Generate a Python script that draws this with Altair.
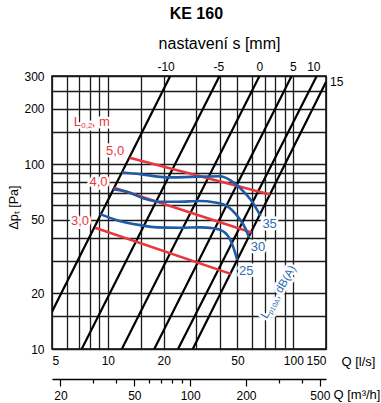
import altair as alt
import pandas as pd

FONT = "Liberation Sans"
RED = "#e8383d"
BLUE = "#1f5ba6"
BLUE_TXT = "#2d6cb6"

# ---- damper setting lines s [mm] (straight on log-log), endpoints
s_names = ["-10", "-5", "0", "5", "10", "15"]
s_q_start = [5.0, 7.23, 11.9, 17.8, 23.9, 28.7]
s_p_start = [15.9, 10, 10, 10, 10, 10]
s_q_end = [21.7, 40.0, 65.7, 97.9, 133.7, 150]
s_p_end = [300, 300, 300, 300, 300, 278]

top_labels = ["-10", "-5", "0", "5", "10"]
top_label_q = [20.6, 39.6, 66.0, 100.0, 129.0]

# ---- throw length lines L0,2 [m]
t_names = ["3,0", "4,0", "5,0"]
t_q_start = [8.54, 10.8, 13.1]
t_p_start = [45.3, 74.5, 108.2]
t_q_end = [46.0, 59.5, 74.8]
t_p_end = [25.5, 42.7, 68.6]
t_label_q = [7.08, 8.9, 10.95]
t_label_p = [49.4, 80.2, 118]

# ---- sound power curves LpA dB(A)
snd_25_q = [9.09, 11.2, 14.95, 18.4, 24.6, 31.5, 37.2, 42.2, 45.8, 47.7, 49.8]
snd_25_p = [53.7, 49.8, 46.8, 45.5, 45.3, 45.5, 45.0, 43.1, 38.8, 35.0, 30.3]
snd_30_q = [10.7, 12.7, 15.6, 19.2, 23.6, 31.5, 37.2, 43.1, 47.7, 51.9, 55.2, 57.6]
snd_30_p = [73.2, 70.9, 65.3, 62.6, 62.6, 63.2, 62.3, 60.0, 55.2, 49.8, 44.9, 40.2]
snd_35_q = [11.9, 14.95, 19.2, 22.6, 27.9, 40.5, 47.7, 54.1, 60.0, 63.9, 66.6]
snd_35_p = [90.2, 88.3, 85.4, 84.8, 85.4, 86.0, 79.5, 70.9, 62.6, 56.4, 52.5]
snd_names = ["25", "30", "35"]
snd_label_q = [55.7, 64.4, 74.5]
snd_label_p = [26.5, 35.5, 47.2]

# ---- axes
x_grid = [5, 6, 7, 8, 9, 10, 15, 20, 30, 40, 50, 60, 70, 80, 90, 100, 150]
x_labels = [5, 10, 20, 50, 100, 150]
y_grid = [10, 15, 20, 30, 40, 50, 60, 70, 80, 90, 100, 150, 200, 250, 300]
y_labels = [10, 20, 50, 100, 200, 300]
m3h_ticks = [20, 30, 40, 50, 60, 70, 80, 90, 100, 200, 300, 400, 500]
m3h_labels = [20, 50, 100, 200, 500]

# ---- headings
title_text = "KE 160"
subtitle_text = "nastavení s [mm]"


def seg_df(names, q0, p0, q1, p1):
    rows = []
    for n, a, b, c, d in zip(names, q0, p0, q1, p1):
        rows.append({"k": n, "q": a, "p": b, "o": 0})
        rows.append({"k": n, "q": c, "p": d, "o": 1})
    return pd.DataFrame(rows)


black_df = seg_df(s_names, s_q_start, s_p_start, s_q_end, s_p_end)
red_df = seg_df(t_names, t_q_start, t_p_start, t_q_end, t_p_end)
blue_rows = []
for n, qs, ps in zip(snd_names, [snd_25_q, snd_30_q, snd_35_q], [snd_25_p, snd_30_p, snd_35_p]):
    for i, (a, b) in enumerate(zip(qs, ps)):
        blue_rows.append({"k": n, "q": a, "p": b, "o": i})
blue_df = pd.DataFrame(blue_rows)

red_lab = pd.DataFrame({"t": t_names, "q": t_label_q, "p": t_label_p})
blue_lab = pd.DataFrame({"t": snd_names, "q": snd_label_q, "p": snd_label_p})
top_lab = pd.DataFrame({"t": top_labels, "q": top_label_q, "p": [300] * len(top_labels)})
lab15 = pd.DataFrame({"t": ["15"], "q": [150], "p": [278]})
sub_df = pd.DataFrame({"t": [subtitle_text], "q": [40], "p": [300]})
title_df = pd.DataFrame({"t": [title_text], "q": [30], "p": [300]})
lhead = pd.DataFrame({"q": [6.55], "p": [160.5]})
lwa = pd.DataFrame({"q": [71.8], "p": [14.5]})

xscale = alt.Scale(type="log", domain=[5, 150], nice=False)
yscale = alt.Scale(type="log", domain=[10, 300], nice=False)

x_axis = alt.Axis(
    values=x_grid,
    labelExpr=f"indexof({x_labels}, datum.value) >= 0 ? datum.value + '' : ''",
    grid=True, gridColor="#1a1a1a", gridWidth=1.3,
    ticks=False, tickSize=0, domain=False, labelPadding=6,
    labelFontSize=12, labelColor="black",
    title="Q [l/s]", titleX=289, titleY=12, titleAlign="left",
    titleBaseline="middle", titleFontSize=13, titleFontWeight="normal", titleColor="black",
)
y_axis = alt.Axis(
    values=y_grid,
    labelExpr=f"indexof({y_labels}, datum.value) >= 0 ? datum.value + '' : ''",
    grid=True, gridColor="#1a1a1a", gridWidth=1.3,
    ticks=False, tickSize=0, domain=False, labelPadding=8,
    labelFontSize=12, labelColor="black",
    title="Δpₜ [Pa]", titleX=-39, titleY=131, titleAngle=270, titleAlign="center",
    titleBaseline="middle", titleFontSize=12.5, titleFontWeight="normal", titleColor="black",
)

X = alt.X("q:Q", scale=xscale, axis=x_axis)
Y = alt.Y("p:Q", scale=yscale, axis=y_axis)


def txt(df, **kw):
    return alt.Chart(df).mark_text(font=FONT, **kw).encode(x=X, y=Y, text="t:N")


def halo(df, **kw):
    return alt.Chart(df).mark_text(font=FONT, color="white", stroke="white",
                                   strokeWidth=5, strokeJoin="round", **kw).encode(x=X, y=Y, text="t:N")


def piece(df, text, **kw):
    return alt.Chart(df).mark_text(font=FONT, text=text, **kw).encode(x=X, y=Y)


def piece_halo(df, text, **kw):
    return alt.Chart(df).mark_text(font=FONT, text=text, color="white", stroke="white",
                                   strokeWidth=5, strokeJoin="round", **kw).encode(x=X, y=Y)


layers = [
    halo(red_lab, fontSize=13, align="center", baseline="middle"),
    halo(blue_lab, fontSize=13, align="center", baseline="middle"),
    piece_halo(lhead, "L", fontSize=13, align="left", baseline="alphabetic"),
    piece_halo(lhead, "0,2", fontSize=8, align="left", baseline="alphabetic", dx=7.5, dy=2),
    piece_halo(lhead, ", m", fontSize=13, align="left", baseline="alphabetic", dx=18),
    piece_halo(lwa, "L", fontSize=11.5, angle=300, align="left", baseline="alphabetic"),
    piece_halo(lwa, "p10A", fontSize=7, angle=300, align="left", baseline="alphabetic", dx=6.5, dy=2.5),
    piece_halo(lwa, ", dB(A)", fontSize=11.5, angle=300, align="left", baseline="alphabetic", dx=23),
    alt.Chart(black_df).mark_line(color="black", strokeWidth=2.2, clip=True).encode(
        x=X, y=Y, detail="k:N", order="o:Q"),
    alt.Chart(red_df).mark_line(color=RED, strokeWidth=2.6, clip=True).encode(
        x=X, y=Y, detail="k:N", order="o:Q"),
    alt.Chart(blue_df).mark_line(color=BLUE, strokeWidth=2.6, interpolate="monotone", clip=True).encode(
        x=X, y=Y, detail="k:N", order="o:Q"),
    txt(red_lab, fontSize=13, align="center", baseline="middle", color=RED),
    txt(blue_lab, fontSize=13, align="center", baseline="middle", color=BLUE_TXT),
    piece(lhead, "L", fontSize=13, align="left", baseline="alphabetic", color=RED),
    piece(lhead, "0,2", fontSize=8, align="left", baseline="alphabetic", dx=7.5, dy=2, color=RED),
    piece(lhead, ", m", fontSize=13, align="left", baseline="alphabetic", dx=18, color=RED),
    piece(lwa, "L", fontSize=11.5, angle=300, align="left", baseline="alphabetic", color=BLUE_TXT),
    piece(lwa, "p10A", fontSize=7, angle=300, align="left", baseline="alphabetic", dx=6.5, dy=2.5, color=BLUE_TXT),
    piece(lwa, ", dB(A)", fontSize=11.5, angle=300, align="left", baseline="alphabetic", dx=23, color=BLUE_TXT),
    txt(top_lab, fontSize=12, align="center", baseline="alphabetic", dy=-5, color="black"),
    txt(lab15, fontSize=12, align="left", baseline="middle", dx=4, color="black"),
    txt(sub_df, fontSize=16, align="center", baseline="alphabetic", dy=-27, color="black"),
    txt(title_df, fontSize=16, fontWeight="bold", align="center", baseline="alphabetic", dy=-57, color="black"),
]

main = alt.layer(*layers)

sec_df = pd.DataFrame({"qm": [18, 540]})
sec = alt.Chart(sec_df).mark_point(opacity=0).encode(
    x=alt.X("qm:Q", scale=alt.Scale(type="log", domain=[18, 540], nice=False),
            axis=alt.Axis(
                orient="bottom", offset=30, values=m3h_ticks,
                labelExpr=f"indexof({m3h_labels}, datum.value) >= 0 ? datum.value + '' : ''",
                grid=False, ticks=True,
                tickSize={"condition": {"test": f"indexof({m3h_labels}, datum.value) >= 0", "value": 7}, "value": 4},
                tickColor="black", tickWidth=1.2, domain=True, domainColor="black", domainWidth=1.3,
                labelPadding=4, labelFontSize=12, labelColor="black",
                title="Q [m³/h]", titleX=281, titleY=15, titleAlign="left", titleBaseline="middle",
                titleFontSize=13, titleFontWeight="normal", titleColor="black",
            )),
    y=alt.value(0),
)

chart = alt.layer(main, sec).resolve_scale(x="independent").properties(
    width=274, height=273,
    padding={"left": 52, "top": 76, "right": 55, "bottom": 54},
    autosize=alt.AutoSizeParams(type="none"),
).configure(font=FONT).configure_view(stroke="black", strokeWidth=1.5)

chart.save("out.html", embed_options={"renderer": "svg", "actions": False})
